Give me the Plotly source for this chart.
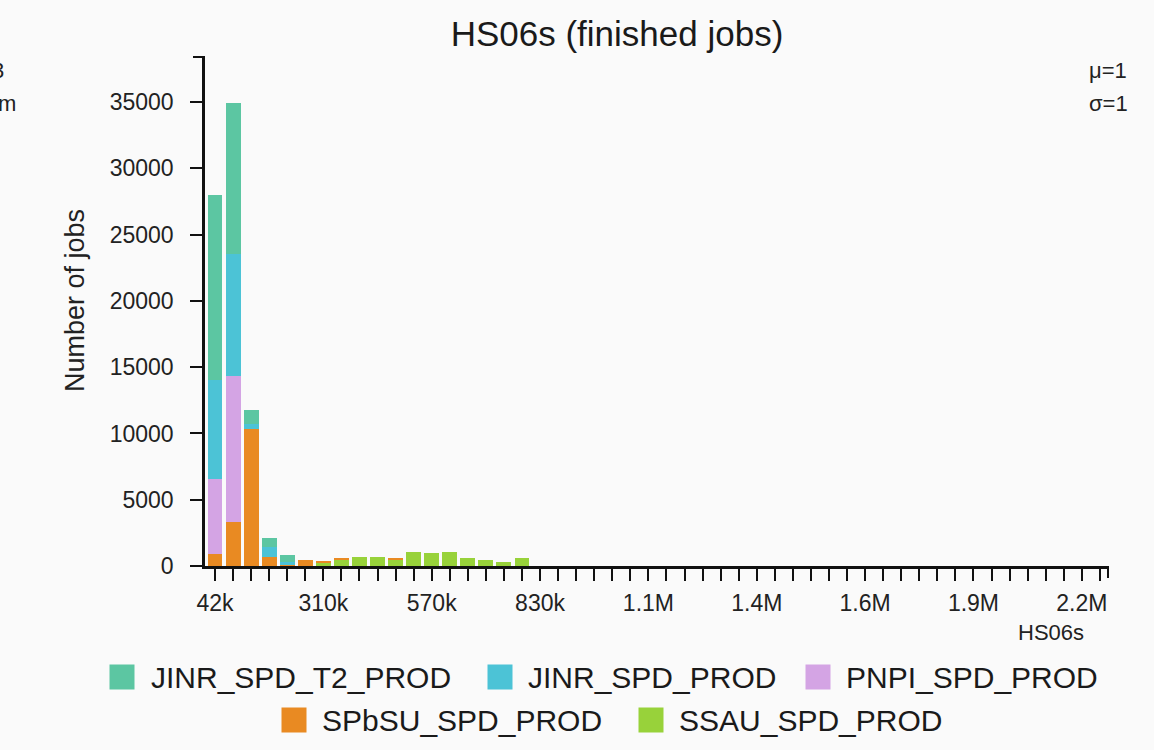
import plotly.graph_objects as go

# ---- data ----
BIN_CENTERS = [42000, 86000, 130000, 174000, 218000, 262000, 306000, 350000, 394000, 438000,
               482000, 526000, 570000, 614000, 658000, 702000, 746000, 790000, 834000, 878000,
               922000, 966000, 1010000, 1054000, 1098000, 1142000, 1186000, 1230000, 1274000, 1318000,
               1362000, 1406000, 1450000, 1494000, 1538000, 1582000, 1626000, 1670000, 1714000, 1758000,
               1802000, 1846000, 1890000, 1934000, 1978000, 2022000, 2066000, 2110000, 2154000, 2198000]

TICK_LABELS = ["42k", "310k", "570k", "830k", "1.1M", "1.4M", "1.6M", "1.9M", "2.2M"]

SSAU_SPD_PROD = [0, 0, 0, 0, 0, 0, 250, 500, 700, 700, 480, 1050, 960, 1050, 600, 450, 330, 620]
SPbSU_SPD_PROD = [900, 3350, 10300, 700, 100, 450, 150, 80, 0, 0, 100, 0, 0, 0, 0, 0, 0, 0]
PNPI_SPD_PROD = [5700, 11000, 0, 0, 0, 0, 0, 0, 0, 0, 0, 0, 0, 0, 0, 0, 0, 0]
JINR_SPD_PROD = [7400, 9200, 450, 750, 200, 0, 0, 0, 0, 0, 0, 0, 0, 0, 0, 0, 0, 0]
JINR_SPD_T2_PROD = [14000, 11400, 1000, 700, 550, 0, 0, 0, 0, 0, 0, 0, 0, 0, 0, 0, 0, 0]

SERIES_NAMES = ["JINR_SPD_T2_PROD", "JINR_SPD_PROD", "PNPI_SPD_PROD", "SPbSU_SPD_PROD", "SSAU_SPD_PROD"]
SERIES_COLORS = ["#5cc6a2", "#4cc3d6", "#d4a4e4", "#e98a22", "#98d23a"]

Y_TICKS = [0, 5000, 10000, 15000, 20000, 25000, 30000, 35000]
Y_TICK_LABELS = ["0", "5000", "10000", "15000", "20000", "25000", "30000", "35000"]

# ---- geometry ----
W, H = 1154, 750
ML, MR, MT, MB = 205, 46, 57, 184
PW = W - ML - MR
PH = H - MT - MB
BG = "#fafafa"
FONT = "Liberation Sans, Arial, Helvetica, sans-serif"


def px_x(px):
    return (px - ML) / PW


def px_y(py):
    return (H - MB - py) / PH


series_values = {
    "SSAU_SPD_PROD": SSAU_SPD_PROD,
    "SPbSU_SPD_PROD": SPbSU_SPD_PROD,
    "PNPI_SPD_PROD": PNPI_SPD_PROD,
    "JINR_SPD_PROD": JINR_SPD_PROD,
    "JINR_SPD_T2_PROD": JINR_SPD_T2_PROD,
}
color_of = dict(zip(SERIES_NAMES, SERIES_COLORS))

fig = go.Figure()
# bottom of stack first
for name in ["SSAU_SPD_PROD", "SPbSU_SPD_PROD", "PNPI_SPD_PROD", "JINR_SPD_PROD", "JINR_SPD_T2_PROD"]:
    vals = series_values[name]
    fig.add_trace(go.Bar(
        x=BIN_CENTERS[:len(vals)], y=vals, name=name,
        marker=dict(color=color_of[name], line=dict(width=0)),
        showlegend=False,
    ))

tick_text = []
for i, c in enumerate(BIN_CENTERS):
    tick_text.append(TICK_LABELS[i // 6] if i % 6 == 0 and i // 6 < len(TICK_LABELS) else "")

fig.update_layout(
    width=W, height=H,
    margin=dict(l=ML, r=MR, t=MT, b=MB, pad=0),
    paper_bgcolor=BG, plot_bgcolor=BG,
    barmode="stack", bargap=0.17,
    showlegend=False,
    font=dict(family=FONT, color="#222222"),
    title=dict(text="HS06s (finished jobs)", x=617 / W, xanchor="center",
               y=1 - 34 / H, yanchor="middle",
               font=dict(size=35, family=FONT, color="#1a1a1a")),
    xaxis=dict(
        range=[17640, 2217800],
        tickmode="array", tickvals=BIN_CENTERS, ticktext=tick_text,
        ticks="outside", ticklen=12, tickwidth=2, tickcolor="#111111",
        showline=True, linecolor="#111111", linewidth=2.5,
        showgrid=False, zeroline=False,
        tickfont=dict(size=23, family=FONT, color="#222222"),
        ticklabelstandoff=3,
    ),
    yaxis=dict(
        range=[0, 38400],
        tickmode="array", tickvals=Y_TICKS, ticktext=Y_TICK_LABELS,
        ticks="outside", ticklen=12, tickwidth=2, tickcolor="#111111",
        showline=True, linecolor="#111111", linewidth=2.5,
        showgrid=False, zeroline=False,
        tickfont=dict(size=23, family=FONT, color="#222222"),
        ticklabelstandoff=12,
    ),
)

annotations = []
shapes = []

# y-axis title
annotations.append(dict(text="Number of jobs", xref="paper", yref="paper",
                        x=px_x(75), y=px_y(301), xanchor="center", yanchor="middle",
                        textangle=-90, showarrow=False,
                        font=dict(size=27, family=FONT, color="#222222")))
# x-axis title at right
annotations.append(dict(text="HS06s", xref="paper", yref="paper",
                        x=px_x(1086), y=px_y(632), xanchor="right", yanchor="middle",
                        showarrow=False, font=dict(size=22, family=FONT, color="#222222")))
# stats text on the right
annotations.append(dict(text="μ=1", xref="paper", yref="paper",
                        x=px_x(1087), y=px_y(70), xanchor="left", yanchor="middle",
                        showarrow=False, font=dict(size=22, family=FONT, color="#222222")))
annotations.append(dict(text="σ=1", xref="paper", yref="paper",
                        x=px_x(1087), y=px_y(103), xanchor="left", yanchor="middle",
                        showarrow=False, font=dict(size=22, family=FONT, color="#222222")))
# clipped texts at the left edge (partially outside the picture, as in the reference)
annotations.append(dict(text="3", xref="paper", yref="paper",
                        x=px_x(6), y=px_y(70), xanchor="right", yanchor="middle",
                        showarrow=False, font=dict(size=22, family=FONT, color="#222222")))
annotations.append(dict(text="m", xref="paper", yref="paper",
                        x=px_x(18), y=px_y(103), xanchor="right", yanchor="middle",
                        showarrow=False, font=dict(size=22, family=FONT, color="#222222")))

# outer axis end ticks
shapes.append(dict(type="line", xref="paper", yref="paper", x0=px_x(193), x1=0,
                   y0=1, y1=1, line=dict(color="#111111", width=2)))
shapes.append(dict(type="line", xref="paper", yref="paper", x0=1, x1=1,
                   y0=0, y1=px_y(578), line=dict(color="#111111", width=2)))

# custom legend (swatch center x, text left x, row center y) in pixels
LEGEND_POS = [(122, 149, 677), (500, 526, 677), (818, 844, 677), (294, 320, 720), (651, 677, 720)]
for name, (sx, tx, ry) in zip(SERIES_NAMES, LEGEND_POS):
    shapes.append(dict(type="rect", xref="paper", yref="paper",
                       xsizemode="pixel", ysizemode="pixel",
                       xanchor=px_x(sx), yanchor=px_y(ry),
                       x0=-12.5, x1=12.5, y0=-12.5, y1=12.5,
                       fillcolor=color_of[name], line=dict(width=0)))
    annotations.append(dict(text=name, xref="paper", yref="paper",
                            x=px_x(tx), y=px_y(ry), xanchor="left", yanchor="middle",
                            showarrow=False, font=dict(size=30, family=FONT, color="#1a1a1a")))

fig.update_layout(annotations=annotations, shapes=shapes)

fig.write_html("out.html")
